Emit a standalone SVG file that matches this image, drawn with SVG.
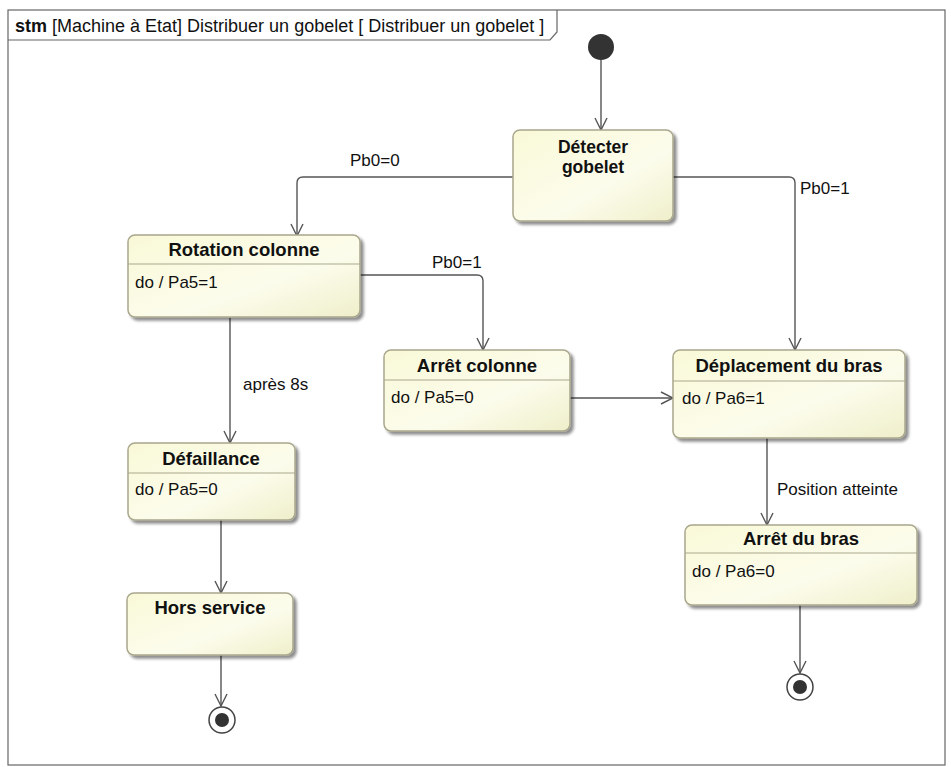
<svg xmlns="http://www.w3.org/2000/svg" width="951" height="767" viewBox="0 0 951 767">
  <defs>
    <linearGradient id="stateFill" x1="0" y1="0" x2="1" y2="1">
      <stop offset="0" stop-color="#f9f9d8"/>
      <stop offset="0.6" stop-color="#fcfcec"/>
      <stop offset="1" stop-color="#efefcb"/>
    </linearGradient>
    <filter id="shadow" x="-10%" y="-10%" width="125%" height="130%">
      <feGaussianBlur in="SourceAlpha" stdDeviation="1.5"/>
      <feOffset dx="3" dy="3" result="b"/>
      <feComponentTransfer><feFuncA type="linear" slope="0.45"/></feComponentTransfer>
      <feMerge><feMergeNode/><feMergeNode in="SourceGraphic"/></feMerge>
    </filter>
    <marker id="open" viewBox="0 0 14 14" refX="13" refY="7" markerWidth="14" markerHeight="14" markerUnits="userSpaceOnUse" orient="auto">
      <path d="M1,1 L13,7 L1,13" fill="none" stroke="#555" stroke-width="1.4"/>
    </marker>
  </defs>
  <style>
    .state { fill: url(#stateFill); stroke: #a9a78c; stroke-width: 1.5; filter: url(#shadow); }
    .div { stroke: #a9a78c; stroke-width: 1.2; }
    .title { font-family: "Liberation Sans", Arial, sans-serif; font-weight: bold; font-size: 18.5px; fill: #111; text-anchor: middle; }
    .body { font-family: "Liberation Sans", Arial, sans-serif; font-size: 17px; fill: #111; }
    .lbl { font-family: "Liberation Sans", Arial, sans-serif; font-size: 17px; fill: #111; }
    .hdr { font-family: "Liberation Sans", Arial, sans-serif; font-size: 18px; fill: #111; }
    .edge { fill: none; stroke: #555; stroke-width: 1.4; marker-end: url(#open); }
  </style>
  <rect width="951" height="767" fill="#fff"/>

  <!-- diagram frame with name tab -->
  <g id="frame">
    <rect x="8" y="10" width="937" height="755" fill="none" stroke="#666" stroke-width="1.2"/>
    <path d="M8,40 H550 L557,32 V10" fill="none" stroke="#666" stroke-width="1.2"/>
    <text x="15" y="32" class="hdr"><tspan font-weight="bold">stm</tspan> [Machine à Etat] Distribuer un gobelet [ Distribuer un gobelet ]</text>
  </g>

  <!-- transitions -->
  <g id="connectors">
    <path class="edge" d="M601,60 V130"/>
    <path class="edge" d="M513,177 H303 Q297,177 297,183 V236"/>
    <path class="edge" d="M673,177 H789 Q795,177 795,183 V350"/>
    <path class="edge" d="M360,275 H477 Q483,275 483,281 V350"/>
    <path class="edge" d="M230,318 V443"/>
    <path class="edge" d="M570,398 H673"/>
    <path class="edge" d="M767,438 V525"/>
    <path class="edge" d="M221,520 V593"/>
    <path class="edge" d="M221,655 V706"/>
    <path class="edge" d="M800,605 V673"/>
    <text class="lbl" x="350" y="166">Pb0=0</text>
    <text class="lbl" x="800" y="194">Pb0=1</text>
    <text class="lbl" x="432" y="268">Pb0=1</text>
    <text class="lbl" x="243" y="390">après 8s</text>
    <text class="lbl" x="777" y="495">Position atteinte</text>
  </g>

  <!-- pseudo states -->
  <g id="initial">
    <circle cx="601" cy="47" r="13" fill="#333"/>
  </g>
  <g id="final-left">
    <circle cx="222" cy="720" r="13" fill="#fff" stroke="#444" stroke-width="1.5"/>
    <circle cx="222" cy="720" r="7" fill="#333"/>
  </g>
  <g id="final-right">
    <circle cx="800" cy="687" r="13" fill="#fff" stroke="#444" stroke-width="1.5"/>
    <circle cx="800" cy="687" r="7" fill="#333"/>
  </g>

  <!-- states -->
  <g id="detecter-gobelet">
    <rect class="state" x="513" y="130" width="160" height="91" rx="7"/>
    <text class="title" x="593" y="153" style="font-size:17.5px">Détecter</text>
    <text class="title" x="593" y="173" style="font-size:17.5px">gobelet</text>
  </g>
  <g id="rotation-colonne">
    <rect class="state" x="128" y="235" width="232" height="82" rx="7"/>
    <line class="div" x1="128" y1="264" x2="360" y2="264"/>
    <text class="title" x="244" y="256">Rotation colonne</text>
    <text class="body" x="135" y="288">do / Pa5=1</text>
  </g>
  <g id="arret-colonne">
    <rect class="state" x="384" y="350" width="186" height="81" rx="7"/>
    <line class="div" x1="384" y1="380" x2="570" y2="380"/>
    <text class="title" x="477" y="372">Arrêt colonne</text>
    <text class="body" x="391" y="403">do / Pa5=0</text>
  </g>
  <g id="deplacement-du-bras">
    <rect class="state" x="673" y="350" width="232" height="88" rx="7"/>
    <line class="div" x1="673" y1="381" x2="905" y2="381"/>
    <text class="title" x="789" y="372">Déplacement du bras</text>
    <text class="body" x="682" y="404">do / Pa6=1</text>
  </g>
  <g id="defaillance">
    <rect class="state" x="128" y="443" width="167" height="77" rx="7"/>
    <line class="div" x1="128" y1="473" x2="295" y2="473"/>
    <text class="title" x="211" y="465">Défaillance</text>
    <text class="body" x="135" y="495">do / Pa5=0</text>
  </g>
  <g id="hors-service">
    <rect class="state" x="127" y="593" width="166" height="62" rx="7"/>
    <text class="title" x="210" y="614">Hors service</text>
  </g>
  <g id="arret-du-bras">
    <rect class="state" x="685" y="525" width="232" height="80" rx="7"/>
    <line class="div" x1="685" y1="553" x2="917" y2="553"/>
    <text class="title" x="801" y="545">Arrêt du bras</text>
    <text class="body" x="692" y="577">do / Pa6=0</text>
  </g>
</svg>
